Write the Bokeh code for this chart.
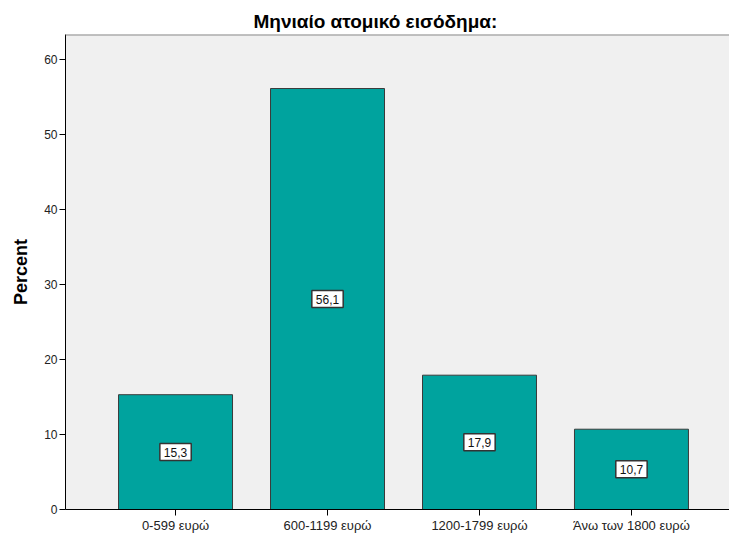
from bokeh.plotting import figure
from bokeh.models import Range1d, FixedTicker, ColumnDataSource, Span
from bokeh.core.properties import value
from bokeh.embed import file_html
from bokeh.resources import INLINE

title_text = "Μηνιαίο ατομικό εισόδημα:"
categories = ["0-599 ευρώ", "600-1199 ευρώ", "1200-1799 ευρώ", "Άνω των 1800 ευρώ"]
values = [15.3, 56.1, 17.9, 10.7]
y_ticks = [0, 10, 20, 30, 40, 50, 60]
y_label = "Percent"

FONT = "Liberation Sans"
xs = list(range(len(categories)))
src = ColumnDataSource(dict(
    x=xs,
    top=values,
    mid=[v / 2 for v in values],
    lab=[f"{v:.1f}".replace(".", ",") for v in values],
))

p = figure(width=729, height=533, output_backend="svg", toolbar_location=None,
           x_range=Range1d(-0.724, 3.645), y_range=Range1d(0, 63.3),
           frame_width=664, frame_height=475,
           min_border_left=65, min_border_right=0, min_border_top=34, min_border_bottom=0)

p.title.text = title_text
p.title.text_font = FONT
p.title.text_font_size = "19px"
p.title.text_font_style = "bold"
p.title.text_color = "black"
p.title.align = "left"
p.title.offset = 188
p.title.standoff = 5

p.background_fill_color = "#f0f0f0"
p.border_fill_color = "white"
p.outline_line_color = None
p.xgrid.visible = False
p.ygrid.visible = False

p.vbar(x="x", top="top", width=0.75, bottom=0, source=src,
       fill_color="#00a39e", line_color="#3a3a3a", line_width=1)

p.text(x="x", y="mid", text="lab", source=src,
       text_align="center", text_baseline="middle",
       text_font=value(FONT), text_font_size="12px", text_color="#111111",
       background_fill_color="white", border_line_color="#333333",
       border_line_width=1.5, padding=4)

p.add_layout(Span(location=63.3, dimension="width", line_color="#8a8a8a", line_width=2))

# axes
p.xaxis.ticker = FixedTicker(ticks=xs)
p.xaxis.major_label_overrides = {i: c for i, c in zip(xs, categories)}
p.xaxis.minor_tick_line_color = None
p.xaxis.major_tick_in = 0
p.xaxis.major_tick_out = 6
p.xaxis.axis_line_color = "black"
p.xaxis.major_tick_line_color = "black"
p.xaxis.major_label_text_font = FONT
p.xaxis.major_label_text_font_size = "13px"
p.xaxis.major_label_text_color = "#222222"
p.xaxis.major_label_standoff = 2

p.yaxis.ticker = FixedTicker(ticks=y_ticks)
p.yaxis.minor_tick_line_color = None
p.yaxis.major_tick_in = 0
p.yaxis.major_tick_out = 6
p.yaxis.axis_line_color = "black"
p.yaxis.major_tick_line_color = "black"
p.yaxis.major_label_text_font = FONT
p.yaxis.major_label_text_font_size = "12px"
p.yaxis.major_label_text_color = "#222222"
p.yaxis.major_label_standoff = 2
p.yaxis.axis_label = y_label
p.yaxis.axis_label_text_font = FONT
p.yaxis.axis_label_text_font_size = "18px"
p.yaxis.axis_label_text_font_style = "bold"
p.yaxis.axis_label_text_color = "black"
p.yaxis.axis_label_standoff = 10

open("out.html", "w").write(file_html(p, INLINE))
